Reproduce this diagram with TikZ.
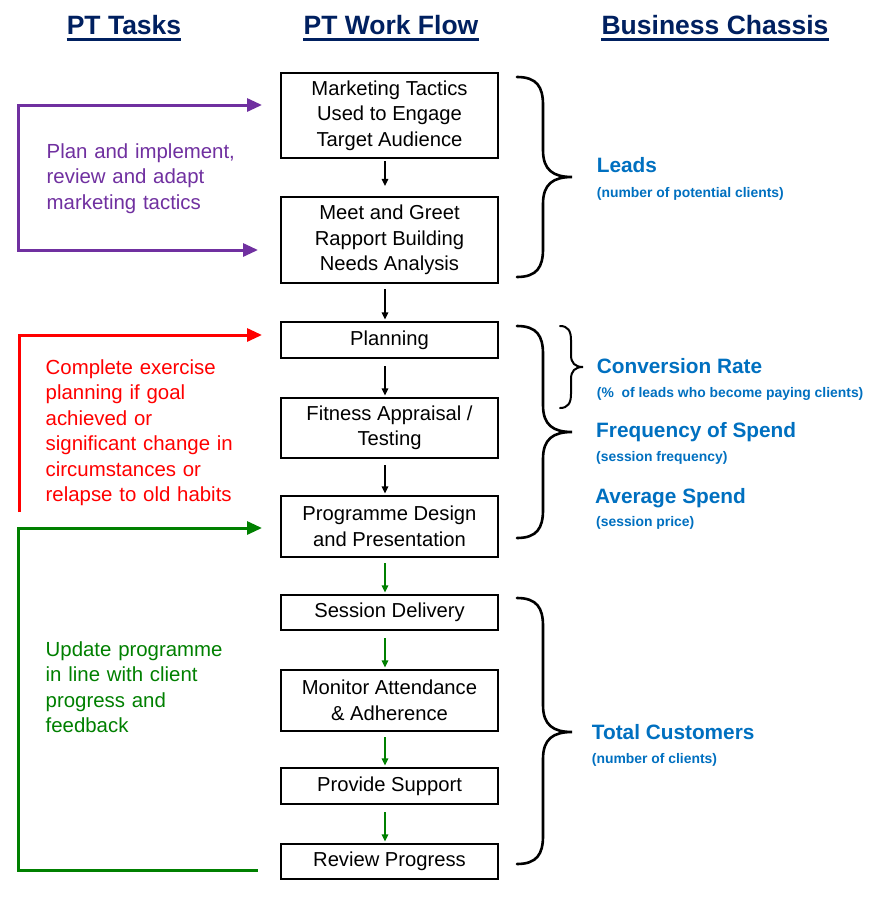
\documentclass[tikz,border=0pt]{standalone}
\usepackage{fontspec}
\setmainfont{Liberation Sans}
\usetikzlibrary{arrows.meta}
\definecolor{navy}{RGB}{0,32,96}
\definecolor{purp}{RGB}{112,48,160}
\definecolor{grn}{RGB}{0,128,0}
\definecolor{lblue}{RGB}{0,112,192}
\definecolor{rd}{RGB}{255,0,0}
\begin{document}
\begin{tikzpicture}[x=1pt,y=-1pt,
 box/.style={draw, line width=2.2pt, minimum width=217pt, inner sep=0pt, align=center, font=\fontsize{20.2}{25.5}\selectfont},
 flow/.style={-{Triangle[length=7pt,width=6.5pt]}, line width=1.3pt},
 head/.style={font=\fontsize{26.5}{30}\selectfont\bfseries, text=navy, inner sep=0pt, anchor=base},
 ul/.style={navy, line width=3pt},
 task/.style={inner sep=0pt, anchor=base west, text width=240pt, align=left, font=\fontsize{20.4}{25.5}\selectfont},
 loopline/.style={line width=3pt, line join=miter},
 looparrow/.style={-{Triangle[length=15pt,width=13pt]}},
 loopboth/.style={{Triangle[length=15pt,width=13pt]}-{Triangle[length=15pt,width=13pt]}},
 loopstart/.style={{Triangle[length=15pt,width=13pt]}-},
 brace/.style={line width=2.6pt, line cap=round},
 big/.style={font=\fontsize{20.8}{24}\selectfont\bfseries, text=lblue, inner sep=0pt, anchor=base west},
 small/.style={font=\fontsize{13.9}{16}\selectfont\bfseries, text=lblue, inner sep=0pt, anchor=base west},
]
\useasboundingbox[fill=white] (0,0) rectangle (874,897);

% headers
\node[head] (h1) at (124,34.3) {PT Tasks};
\node[head] (h2) at (391,34.3) {PT Work Flow};
\node[head] (h3) at (715,34.3) {Business Chassis};
\draw[ul] ([yshift=-5pt]h1.base west) -- ([yshift=-5pt]h1.base east);
\draw[ul] ([yshift=-5pt]h2.base west) -- ([yshift=-5pt]h2.base east);
\draw[ul] ([yshift=-5pt]h3.base west) -- ([yshift=-5pt]h3.base east);

% work flow boxes
\node[box, minimum height=85pt] (b1) at (389.5,115.5) {Marketing Tactics\\Used to Engage\\Target Audience};
\node[box, minimum height=86pt] (b2) at (389.5,240) {Meet and Greet\\Rapport Building\\Needs Analysis};
\node[box, minimum height=36pt] (b3) at (389.5,340) {Planning};
\node[box, minimum height=60pt] (b4) at (389.5,428) {Fitness Appraisal /\\Testing};
\node[box, minimum height=61pt] (b5) at (389.5,526.5) {Programme Design\\and Presentation};
\node[box, minimum height=35pt] (b6) at (389.5,612.5) {Session Delivery};
\node[box, minimum height=61pt] (b7) at (389.5,700.5) {Monitor Attendance\\\& Adherence};
\node[box, minimum height=36pt] (b8) at (389.5,786) {Provide Support};
\node[box, minimum height=35pt] (b9) at (389.5,861.5) {Review Progress};

% flow arrows
\draw[flow] ([xshift=-4.5pt,yshift=-2pt]b1.south) -- ([xshift=-4.5pt,yshift=10pt]b2.north);
\draw[flow] ([xshift=-4.5pt,yshift=-5pt]b2.south) -- ([xshift=-4.5pt,yshift=1.5pt]b3.north);
\draw[flow] ([xshift=-4.5pt,yshift=-7pt]b3.south) -- ([xshift=-4.5pt,yshift=1.5pt]b4.north);
\draw[flow] ([xshift=-4.5pt,yshift=-6pt]b4.south) -- ([xshift=-4.5pt,yshift=1.5pt]b5.north);
\draw[flow, grn] ([xshift=-4.5pt,yshift=-5pt]b5.south) -- ([xshift=-4.5pt,yshift=1.5pt]b6.north);
\draw[flow, grn] ([xshift=-4.5pt,yshift=-7pt]b6.south) -- ([xshift=-4.5pt,yshift=1.5pt]b7.north);
\draw[flow, grn] ([xshift=-4.5pt,yshift=-5pt]b7.south) -- ([xshift=-4.5pt,yshift=1.5pt]b8.north);
\draw[flow, grn] ([xshift=-4.5pt,yshift=-7pt]b8.south) -- ([xshift=-4.5pt,yshift=1.5pt]b9.north);

% left loops
\coordinate (pT) at (262,105);
\coordinate (pL) at (18,177);
\coordinate (pB) at (258,250);
\draw[loopline, purp, loopboth] (pT) -| (pL) |- (pB);
\coordinate (rS) at (19,512);
\coordinate (rT) at (262,335);
\draw[loopline, rd, looparrow] (rS) |- (rT);
\coordinate (gT) at (262,528);
\coordinate (gL) at (18,700);
\coordinate (gE) at (258,870);
\draw[loopline, grn, loopstart] (gT) -| (gL) |- (gE);

% task texts
\node[task, text=purp] (t1) at (46.5,158.3) {Plan and implement,\\review and adapt\\marketing tactics};
\node[task, text=rd] (t2) at (45.5,374) {Complete exercise\\planning if goal\\achieved or\\significant change in\\circumstances or\\relapse to old habits};
\node[task, text=grn] (t3) at (45.5,656) {Update programme\\in line with client\\progress and\\feedback};

% braces
\draw[brace] (517,77) .. controls (537,77) and (543,87) .. (543,105) -- (543,150) .. controls (543,170) and (553,177) .. (572,177) .. controls (553,177) and (543,184) .. (543,204) -- (543,249) .. controls (543,267) and (537,277) .. (517,277);
\draw[brace] (517,326) .. controls (537,326) and (543,336) .. (543,354) -- (543,405) .. controls (543,425) and (553,432) .. (572,432) .. controls (553,432) and (543,439) .. (543,459) -- (543,510) .. controls (543,528) and (537,538) .. (517,538);
\draw[brace] (517,598) .. controls (537,598) and (543,608) .. (543,626) -- (543,705) .. controls (543,725) and (553,732) .. (572,732) .. controls (553,732) and (543,739) .. (543,759) -- (543,836) .. controls (543,854) and (537,864) .. (517,864);
\draw[line width=2pt, line cap=round] (560,326) .. controls (568,326) and (571,331) .. (571,340) -- (571,355) .. controls (571,363) and (575,367) .. (583,367) .. controls (575,367) and (571,371) .. (571,379) -- (571,394) .. controls (571,403) and (568,408) .. (560,408);

% chassis labels
\node[big] (l1) at (596.7,172.7) {Leads};
\node[small] (l1s) at (596.7,197) {(number of potential clients)};
\node[big] (l2) at (596.7,373.3) {Conversion Rate};
\node[small] (l2s) at (596.7,397.3) {(\%\ \ of leads who become paying clients)};
\node[big] (l3) at (596,437.3) {Frequency of Spend};
\node[small] (l3s) at (596,461.3) {(session frequency)};
\node[big] (l4) at (595,503.3) {Average Spend};
\node[small] (l4s) at (596,526.3) {(session price)};
\node[big] (l5) at (591.7,739) {Total Customers};
\node[small] (l5s) at (591.7,763) {(number of clients)};
\end{tikzpicture}
\end{document}
